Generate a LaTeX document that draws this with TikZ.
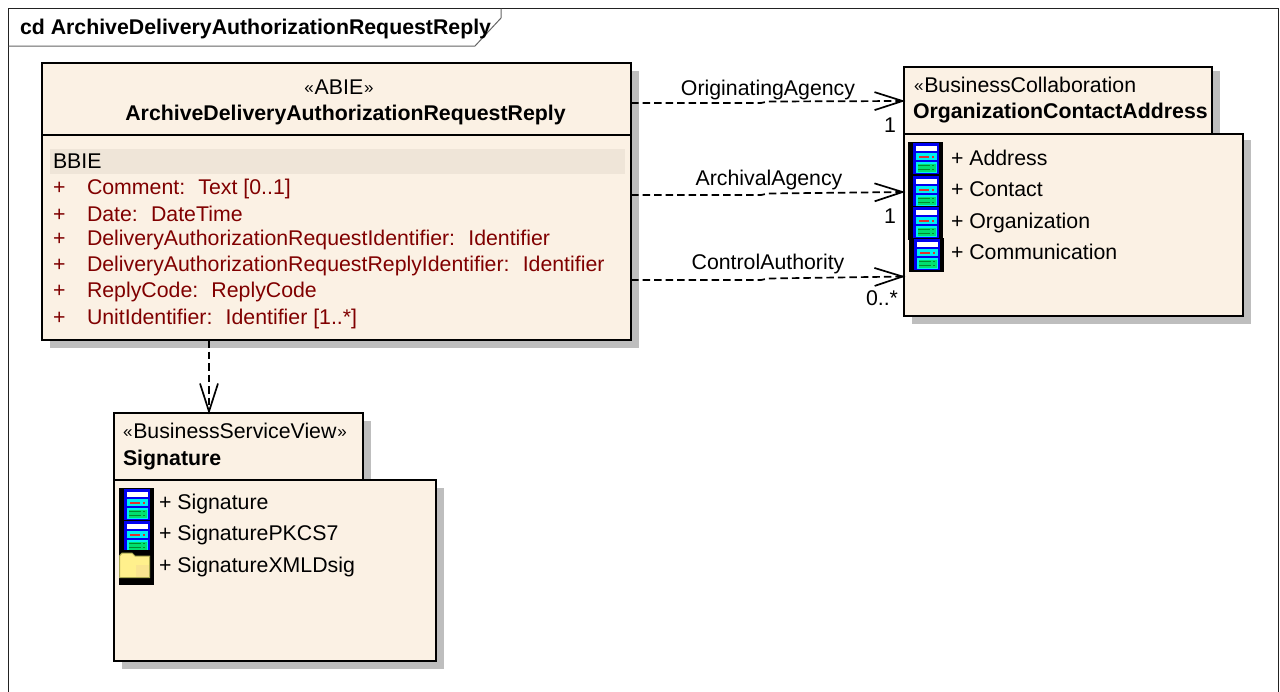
\documentclass[tikz,border=0pt]{standalone}
\usepackage{fontspec}
\setmainfont{Liberation Sans}
\usetikzlibrary{arrows.meta,calc}
\definecolor{boxfill}{HTML}{FBF1E4}
\definecolor{band}{HTML}{EFE5D8}
\definecolor{attr}{HTML}{800000}
\definecolor{dropgray}{HTML}{BEBEBE}
\definecolor{frameline}{HTML}{222222}
\definecolor{iconblue}{HTML}{0000F0}
\definecolor{iconcyan}{HTML}{00F0F0}
\definecolor{iconmint}{HTML}{00E070}
\definecolor{iconred}{HTML}{E03030}
\definecolor{icongreen}{HTML}{008A30}
\definecolor{foldery}{HTML}{FFF08C}
\definecolor{folderp}{HTML}{F9E490}
\definecolor{foldere}{HTML}{A8A850}
\newcommand{\fs}{\fontsize{21.3}{24}\selectfont}
\newcommand{\gl}{{\fontsize{17}{17}\selectfont\raisebox{0.5pt}{«}}\hspace{0.8pt}}
\newcommand{\gr}{\hspace{0.8pt}{\fontsize{17}{17}\selectfont\raisebox{0.5pt}{»}}}
\newcommand{\cs}{:\hspace{0.62em}}
\pgfdeclarearrow{
  name=OpenV,
  setup code={
    \pgfarrowssettipend{0.5pt}
    \pgfarrowssetlineend{-0.5pt}
    \pgfarrowssetvisualtipend{0.5pt}
    \pgfarrowssetbackend{-29pt}
    \pgfarrowssetvisualbackend{-0.5pt}
    \pgfarrowshullpoint{-29pt}{9pt}
    \pgfarrowshullpoint{-29pt}{-9pt}
    \pgfarrowshullpoint{0.5pt}{0pt}
  },
  drawing code={
    \pgfsetdash{}{0pt}
    \pgfpathmoveto{\pgfqpoint{-29pt}{9pt}}
    \pgfpathlineto{\pgfqpoint{-1pt}{0pt}}
    \pgfpathlineto{\pgfqpoint{-29pt}{-9pt}}
    \pgfusepathqstroke
  },
  defaults={}
}
\tikzset{
  x=1pt,y=-1pt,
  umlbox/.style={draw=black,line width=2pt,fill=boxfill,rectangle,inner sep=0pt,outer sep=0pt,anchor=north west},
  lab/.style={anchor=base west,inner sep=0pt,outer sep=0pt,font=\fs,text=black},
  labc/.style={anchor=base,inner sep=0pt,outer sep=0pt,font=\fs,text=black},
  bold/.style={font=\fs\bfseries},
  at1/.style={lab,text=attr},
  dep/.style={draw=black,line width=1.7pt,dash pattern=on 7.5pt off 4pt,-{OpenV}},
  pics/servericon/.style={code={
    \fill[black] (0,0) rectangle (35,34);
    \fill[iconblue] (5,1) rectangle (31,32);
    \fill[white] (8,4) rectangle (29,9);
    \fill[iconcyan] (8,11) rectangle (29,18);
    \fill[iconcyan] (8,20) rectangle (29,31);
    \fill[iconmint] (9.5,21.5) rectangle (27.5,29.5);
    \fill[iconred] (11,13.5) rectangle (21,15.5);
    \fill[iconred] (24,13.5) rectangle (26,15.5);
    \fill[icongreen] (10,22.5) rectangle (22,24);
    \fill[icongreen] (10,26.5) rectangle (22,28);
    \fill[icongreen] (24,22.5) rectangle (26,24);
    \fill[icongreen] (24,26.5) rectangle (26,28);
  }},
  pics/foldericon/.style={code={
    \fill[black] (0,0) rectangle (35,35);
    \fill[foldery,draw=foldere,line width=1pt] (0.5,27.5) -- (0.5,6) -- (3,3) -- (13,3) -- (16,6) -- (30.5,6) -- (30.5,27.5) -- cycle;
    \fill[folderp] (17,15) rectangle (30,27);
  }}
}
\begin{document}
\begin{tikzpicture}
\useasboundingbox (0,0) rectangle (1280,691);
\fill[white] (0,0) rectangle (1280,691);
% frame
\draw[frameline,line width=1pt] (8.5,695) -- (8.5,8.5) -- (1278,8.5) -- (1278,695);
\draw[frameline!70!white,line width=1pt] (8.5,46) -- (475,46) -- (501,18) -- (501,8.5);
\node[lab,bold] (title) at (20,34) {cd ArchiveDeliveryAuthorizationRequestReply};
% shadows
\fill[dropgray] (50,71) rectangle (639,348);
\fill[dropgray] (912,71) rectangle (1220,140);
\fill[dropgray] (912,140) rectangle (1251,324);
\fill[dropgray] (122,421) rectangle (371,490);
\fill[dropgray] (122,488) rectangle (444,669);
% ABIE
\node[umlbox,minimum width=589pt,minimum height=277pt] (abie) at (42,63) {};
\draw[black,line width=2pt] (42,135) -- (631,135);
\fill[band] (50,149) rectangle (625,174);
\node[labc] (abiest) at (339,94) {\gl ABIE\gr};
\node[labc,bold] (abiename) at (345.5,120) {ArchiveDeliveryAuthorizationRequestReply};
\node[lab] (bbie) at (53,168) {BBIE};
\node[at1] (p1) at (53,194) {+}; \node[at1] (a1) at (87,194) {Comment\cs Text [0..1]};
\node[at1] (p2) at (53,221) {+}; \node[at1] (a2) at (87,221) {Date\cs DateTime};
\node[at1] (p3) at (53,245) {+}; \node[at1] (a3) at (87,245) {DeliveryAuthorizationRequestIdentifier\cs Identifier};
\node[at1] (p4) at (53,271) {+}; \node[at1] (a4) at (87,271) {DeliveryAuthorizationRequestReplyIdentifier\cs Identifier};
\node[at1] (p5) at (53,297) {+}; \node[at1] (a5) at (87,297) {ReplyCode\cs ReplyCode};
\node[at1] (p6) at (53,324) {+}; \node[at1] (a6) at (87,324) {UnitIdentifier\cs Identifier [1..*]};
% Org
\node[umlbox,minimum width=339pt,minimum height=182pt] (orgbody) at (904,134) {};
\node[umlbox,minimum width=308pt,minimum height=67pt] (orghead) at (904,67) {};
\node[lab] (orgst) at (914,92) {\gl BusinessCollaboration};
\node[lab,bold] (orgname) at (913,118) {OrganizationContactAddress};
\pic at (908,142) {servericon};
\pic at (908,175) {servericon};
\pic at (908,206) {servericon};
\pic at (909,238) {servericon};
\node[lab] (o1) at (951,165) {+ Address};
\node[lab] (o2) at (951,196) {+ Contact};
\node[lab] (o3) at (951,228) {+ Organization};
\node[lab] (o4) at (951,259) {+ Communication};
% Signature
\node[umlbox,minimum width=322pt,minimum height=181pt] (sigbody) at (114,480) {};
\node[umlbox,minimum width=249pt,minimum height=67pt] (sighead) at (114,413) {};
\node[lab] (sigst) at (123,438) {\gl BusinessServiceView\gr};
\node[lab,bold] (signame) at (123,465) {Signature};
\pic at (119,488) {servericon};
\pic at (119,520) {servericon};
\pic at (119,550) {foldericon};
\node[lab] (s1) at (159,509) {+ Signature};
\node[lab] (s2) at (159,540) {+ SignaturePKCS7};
\node[lab] (s3) at (159,572) {+ SignatureXMLDsig};
% connectors
\draw[dep] ($(abie.north east)+(0,40)$) -- ++(130,0) -- ++(7,-1.5) -- ($(orghead.north west)+(0,34)$);
\draw[dep] ($(abie.north east)+(0,132)$) -- ++(130,0) -- ++(7,-1.5) -- ($(orghead.north west)+(0,125)$);
\draw[dep] ($(abie.north east)+(0,217)$) -- ++(130,0) -- ++(7,-1.5) -- ($(orghead.north west)+(0,209.5)$);
\draw[dep] ($(abie.south west)+(167,0)$) -- ($(sighead.north west)+(95,0)$);
% labels
\node[labc] (l1) at (768,95) {OriginatingAgency};
\node[labc] (l2) at (769,185) {ArchivalAgency};
\node[labc] (l3) at (768,269) {ControlAuthority};
\node[lab] (m1) at (884,132) {1};
\node[lab] (m2) at (884,223) {1};
\node[lab] (m3) at (866,305) {0..*};
\end{tikzpicture}
\end{document}
